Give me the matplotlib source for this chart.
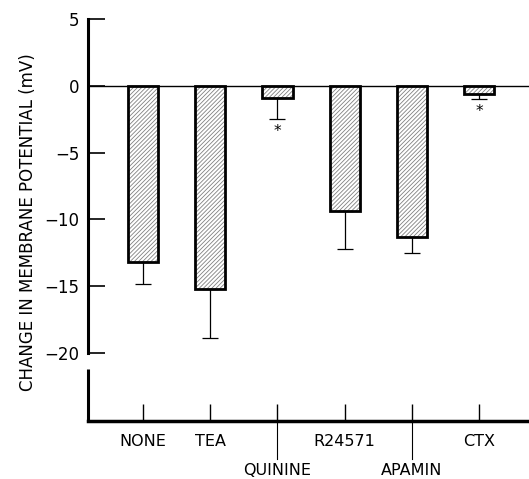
import matplotlib
matplotlib.use("Agg")
import matplotlib.pyplot as plt
import matplotlib.transforms as mtransforms

treatments = ["NONE", "TEA", "QUININE", "R24571", "APAMIN", "CTX"]
change_mv = [-13.2, -15.2, -0.9, -9.4, -11.3, -0.6]
sem_mv = [1.6, 3.7, 1.6, 2.8, 1.2, 0.4]
significant = [False, False, True, False, False, True]
low_label = [False, False, True, False, True, False]

plt.rcParams['font.family'] = ['DejaVu Sans']
plt.rcParams['hatch.linewidth'] = 0.6

fig = plt.figure(figsize=(5.29, 4.79), dpi=100)
ax = fig.add_axes([0.166, 0.121, 0.834, 0.839])

x = list(range(len(treatments)))
# hatched fill in grey, then black outline on top
ax.bar(x, change_mv, width=0.45, color='white', edgecolor='#808080', linewidth=0,
       hatch='////////', zorder=2)
ax.bar(x, change_mv, width=0.45, fill=False, edgecolor='black', linewidth=2, zorder=2.5)

ax.errorbar(x, change_mv, yerr=[sem_mv, [0] * len(sem_mv)], fmt='none',
            ecolor='black', elinewidth=0.9, capsize=6, capthick=0.9, zorder=3)

for xi, v, s, sig in zip(x, change_mv, sem_mv, significant):
    if sig:
        ax.text(xi, v - s - 0.35, "*", ha='center', va='top', fontsize=11)

ax.axhline(0, color='black', linewidth=1.0, zorder=1)

ax.set_xlim(-0.82, 5.74)
ax.set_ylim(-25.1, 5)
ax.set_yticks([5, 0, -5, -10, -15, -20])
ax.set_yticklabels(["5", "0", "\u22125", "\u221210", "\u221215", "\u221220"])
ax.tick_params(axis='y', direction='in', length=12, width=1.2, labelsize=12, pad=6)

ax.spines['top'].set_visible(False)
ax.spines['right'].set_visible(False)
ax.spines['left'].set_bounds(-20, 5)
ax.spines['left'].set_linewidth(2.2)
ax.spines['bottom'].set_linewidth(2.5)
ax.plot([-0.82, -0.82], [-21.2, -25.1], color='black', linewidth=2.2,
        clip_on=False, solid_capstyle='butt')

ax.set_xticks(x)
ax.set_xticklabels([("\n" + t) if low else t for t, low in zip(treatments, low_label)],
                   linespacing=2.2)
ax.tick_params(axis='x', direction='in', length=12, width=1.0, labelsize=11.5, pad=9)

trans = mtransforms.blended_transform_factory(ax.transData, ax.transAxes)
for xi, low in zip(x, low_label):
    if low:
        ax.plot([xi, xi], [0, -0.095], color='black', linewidth=0.8,
                transform=trans, clip_on=False)

ax.set_ylabel("CHANGE IN MEMBRANE POTENTIAL (mV)", fontsize=12, labelpad=6)
ax.yaxis.set_label_coords(-0.115, 0.495)

fig.savefig("out.png", dpi=100)
